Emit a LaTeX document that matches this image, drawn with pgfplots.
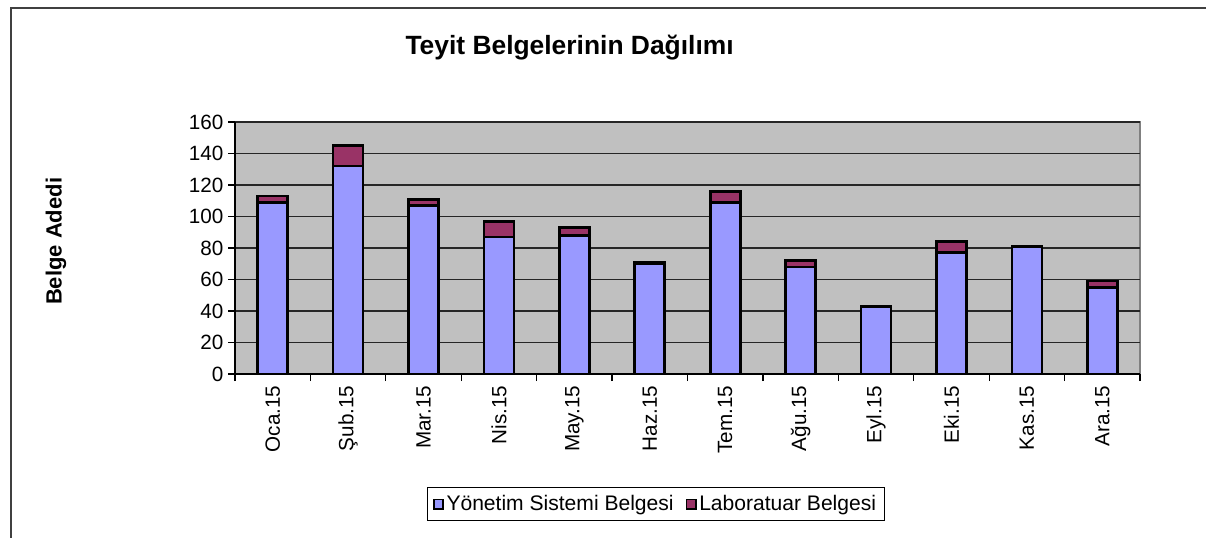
\documentclass[border=0pt]{standalone}
\usepackage{pgfplots}
\pgfplotsset{compat=1.18}
\usepackage{fontspec}
\setmainfont{Liberation Sans}
\definecolor{plotbg}{HTML}{C0C0C0}
\definecolor{ysb}{HTML}{9999FF}
\definecolor{lab}{HTML}{993366}
\begin{document}
\begin{tikzpicture}
\useasboundingbox (0,0) rectangle (904.5pt,-403.5pt);
\draw[line width=1pt, black!75] (8.25pt,-403.5pt) -- (8.25pt,-6pt) -- (904.5pt,-6pt);
\node[anchor=base, font=\fontsize{19.8}{23}\selectfont\bfseries] at (427.2pt,-41.25pt) {Teyit Belgelerinin Dağılımı};
\node[rotate=90, font=\fontsize{16.5}{19}\selectfont\bfseries] at (42pt,-181pt) {Belge Adedi};
\begin{axis}[
  at={(176.25pt,-280.5pt)}, anchor=south west,
  scale only axis, width=678.75pt, height=189pt,
  ybar stacked, bar width=22.5pt,
  xmin=-0.5, xmax=11.5, ymin=0, ymax=160,
  ytick={0,20,...,160},
  xtick={-0.5,0.5,...,11.5},
  x tick label as interval,
  xticklabels={Oca.15,Şub.15,Mar.15,Nis.15,May.15,Haz.15,Tem.15,Ağu.15,Eyl.15,Eki.15,Kas.15,Ara.15},
  axis x line*=bottom, axis y line*=left,
  axis line style={black, line width=0.9pt},
  axis background/.style={fill=plotbg, draw=gray, line width=2pt},
  tick align=outside, major tick length=5.25pt,
  tick style={black, line width=0.9pt},
  ymajorgrids, grid style={black!85, line width=0.8pt},
  /pgf/number format/assume math mode=true,
  ticklabel style={font=\fontsize{15.5}{18}\selectfont},
  x tick label style={rotate=90, anchor=east},
  legend style={at={(0.2122,-0.4484)}, anchor=north west, legend columns=2,
    draw=black, line width=0.8pt, font=\fontsize{15.8}{18}\selectfont,
    inner ysep=4pt, inner xsep=4pt,
    /tikz/every even column/.append style={column sep=7pt}},
  legend image code/.code={\draw[#1, line width=1.2pt] (0pt,-3.5pt) rectangle (7pt,3.5pt);},
]
\addplot[fill=ysb, draw=black, line width=2pt] coordinates {
 (0,109) (1,132) (2,107) (3,87) (4,88) (5,70) (6,109) (7,68) (8,43) (9,77) (10,81) (11,55)};
\addplot[fill=lab, draw=black, line width=2pt] coordinates {
 (0,4) (1,13) (2,4) (3,10) (4,5) (5,1) (6,7) (7,4) (8,0) (9,7) (10,0) (11,4)};
\legend{Yönetim Sistemi Belgesi, Laboratuar Belgesi}
\end{axis}
\end{tikzpicture}
\end{document}
